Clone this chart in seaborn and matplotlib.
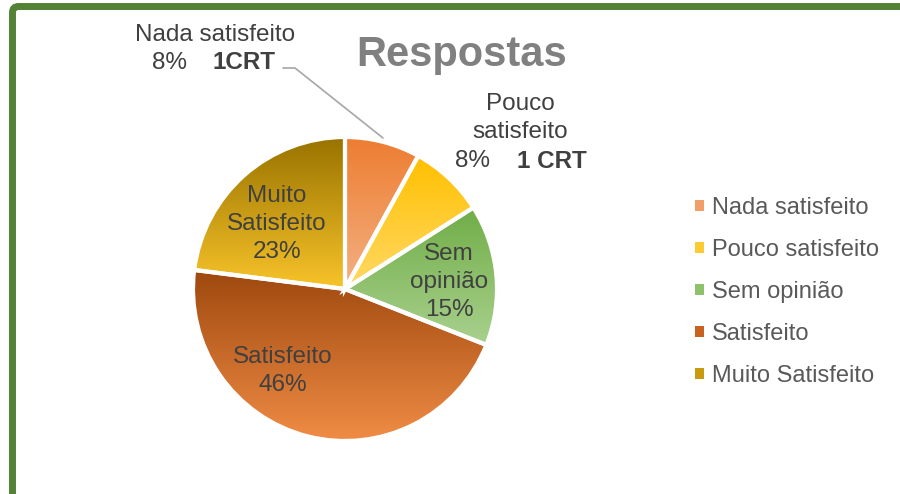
import numpy as np
import matplotlib
matplotlib.use("Agg")
import matplotlib.pyplot as plt
from matplotlib.colors import to_rgb
from matplotlib.patches import FancyBboxPatch, Patch
import seaborn as sns

# ---- data ----
categories = ["Nada satisfeito", "Pouco satisfeito", "Sem opinião", "Satisfeito", "Muito Satisfeito"]
values = [8, 8, 15, 46, 23]
slice_labels = ["Muito\nSatisfeito", "Satisfeito", "Sem\nopinião"]
crt_notes = ["1CRT", "1 CRT"]
title = "Respostas"

# gradient colours (top -> bottom) per slice
grad_top = ["#ED7D31", "#FFC000", "#70AD47", "#9E480E", "#997300"]
grad_bot = ["#F4B183", "#FFD966", "#A9D18E", "#F08C45", "#F8C42A"]
legend_cols = ["#F29E68", "#FFCB33", "#8DC26B", "#C8621E", "#C99B0C"]

sns.set_theme(style="white")
plt.rcParams["font.family"] = ["Liberation Sans", "DejaVu Sans"]

W, H = 900, 494
fig = plt.figure(figsize=(W / 100, H / 100), dpi=100)
ax = fig.add_axes([0, 0, 1, 1])
ax.axis("off")

cx, cy, R = 345, H - 289, 152
wedges, _ = ax.pie(values, startangle=90, counterclock=False, center=(cx, cy), radius=R,
                   wedgeprops=dict(linewidth=3, edgecolor="white"), frame=False)

for w, ct, cb in zip(wedges, grad_top, grad_bot):
    ext = w.get_path().get_extents()
    t = np.array(to_rgb(ct)); b = np.array(to_rgb(cb))
    n = 200
    f = np.linspace(0, 1, n)[:, None]
    grad = (b * (1 - f) + t * f)[:, None, :]  # row 0 bottom (origin lower)
    im = ax.imshow(grad, extent=[ext.x0, ext.x1, ext.y0, ext.y1], origin="lower",
                   aspect="auto", zorder=2, interpolation="bilinear")
    im.set_clip_path(w)
    w.set_facecolor("none")
    w.set_zorder(3)

ax.set_xlim(0, W)
ax.set_ylim(0, H)

lab_col = "#404040"
fs = 17.5
ls = 1.37

def Y(y):
    return H - y

# in-slice labels
ax.text(277, Y(224), f"{slice_labels[0]}\n{values[4]}%", ha="center", va="center",
        fontsize=fs, color=lab_col, linespacing=ls, zorder=5)
ax.text(283, Y(371), f"{slice_labels[1]}\n{values[3]}%", ha="center", va="center",
        fontsize=fs, color=lab_col, linespacing=ls, zorder=5)
ax.text(449, Y(282), f"{slice_labels[2]}\n{values[2]}%", ha="center", va="center",
        fontsize=fs, color=lab_col, linespacing=ls, zorder=5)

# outside labels
ax.text(215, Y(35), categories[0], ha="center", va="center", fontsize=fs, color=lab_col)
ax.text(152, Y(63), f"{values[0]}%", ha="left", va="center", fontsize=fs, color=lab_col)
ax.text(213, Y(63), crt_notes[0], ha="left", va="center", fontsize=fs, color=lab_col, fontweight="bold")

ax.text(520, Y(118), "Pouco\nsatisfeito", ha="center", va="center", fontsize=fs,
        color=lab_col, linespacing=ls)
ax.text(455, Y(161), f"{values[1]}%", ha="left", va="center", fontsize=fs, color=lab_col)
ax.text(517, Y(161), crt_notes[1], ha="left", va="center", fontsize=fs, color=lab_col, fontweight="bold")

# leader line
ax.plot([283, 295, 383], [Y(68), Y(68), Y(138)], color="#A6A6A6", lw=1.2, zorder=4)

# title
ax.text(462, Y(55), title, ha="center", va="center", fontsize=30, fontweight="bold", color="#808080")

# legend
handles = [Patch(facecolor=c, edgecolor="none") for c in legend_cols]
leg = ax.legend(handles, categories, loc="upper left", bbox_to_anchor=(695 / W, 1 - 197 / H),
                frameon=False, fontsize=17, labelcolor="#595959", borderaxespad=0, borderpad=0,
                handlelength=0.36, handleheight=0.36, handletextpad=0.36, labelspacing=0.85)

# border
ax.add_patch(FancyBboxPatch((12.5, -40), 940, H - 6.5 + 40,
                            boxstyle="round,pad=0,rounding_size=6", lw=5,
                            ec="#548235", fc="none", zorder=6, clip_on=False))

fig.savefig("out.png", dpi=100)
